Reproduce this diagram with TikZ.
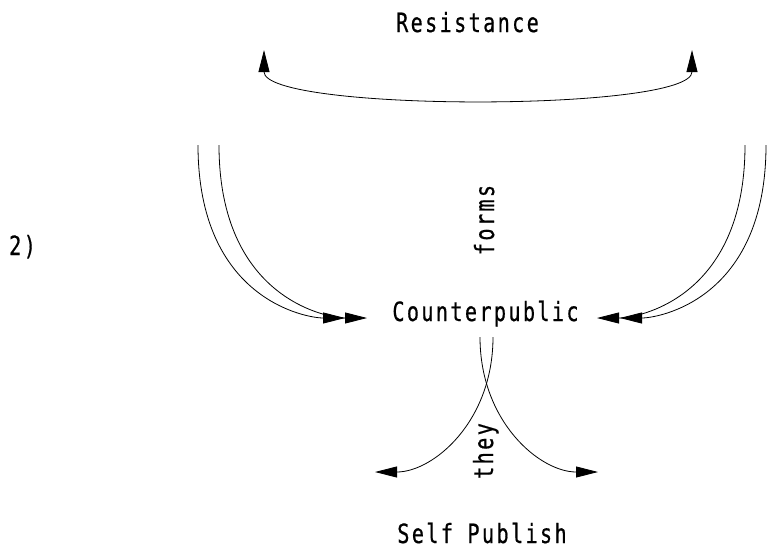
\documentclass[tikz,border=0pt]{standalone}
\usepackage{fontspec}
\newfontfamily\lblfont[FakeStretch=0.76,LetterSpace=9,FakeBold=0.6]{DejaVu Sans Mono}
\usetikzlibrary{arrows.meta}
\begin{document}
\begin{tikzpicture}[x=1pt,y=-1pt,
  lbl/.style={font=\lblfont\fontsize{26.5}{30}\selectfont, inner sep=0pt, anchor=base},
  tip/.tip={Triangle[length=22pt,width=11pt]},
  conn/.style={line width=0.8pt, -tip},
]
\path[use as bounding box] (0,0) rectangle (771,555);
\node[lbl] (res) at (467.5,32) {Resistance};
\node[lbl, anchor=base west] (two) at (9,255) {2)};
\node[lbl, rotate=90] (forms) at (494,220) {forms};
\node[lbl] (cp) at (485.5,321) {Counterpublic};
\node[lbl, rotate=90] (they) at (493,451) {they};
\node[lbl] (sp) at (482,543) {Self Publish};
% top arc
\coordinate (rl) at (264,50);
\coordinate (rr) at (692,50);
\draw[line width=0.8pt, tip-tip] (rl) .. controls (264,112) and (692,112) .. (rr);
% left pair
\coordinate (lo) at (198,145);
\coordinate (li) at (219,145);
\coordinate (lot) at (345,318);
\coordinate (lit) at (367,318);
\draw[conn] (lo) .. controls (198,300) and (307,318) .. (lot);
\draw[conn] (li) .. controls (219,300) and (329,318) .. (lit);
% right pair
\coordinate (ri) at (745,145);
\coordinate (ro) at (766,145);
\coordinate (rit) at (597,318);
\coordinate (rot) at (620,318);
\draw[conn] (ri) .. controls (745,300) and (636,318) .. (rit);
\draw[conn] (ro) .. controls (766,300) and (658,318) .. (rot);
% bottom crossing pair
\coordinate (bl) at (480,337);
\coordinate (br) at (493,337);
\coordinate (btl) at (375,472);
\coordinate (btr) at (598,472);
\draw[conn] (bl) .. controls (480,422) and (540,472) .. (btr);
\draw[conn] (br) .. controls (493,422) and (433,472) .. (btl);
\end{tikzpicture}
\end{document}
